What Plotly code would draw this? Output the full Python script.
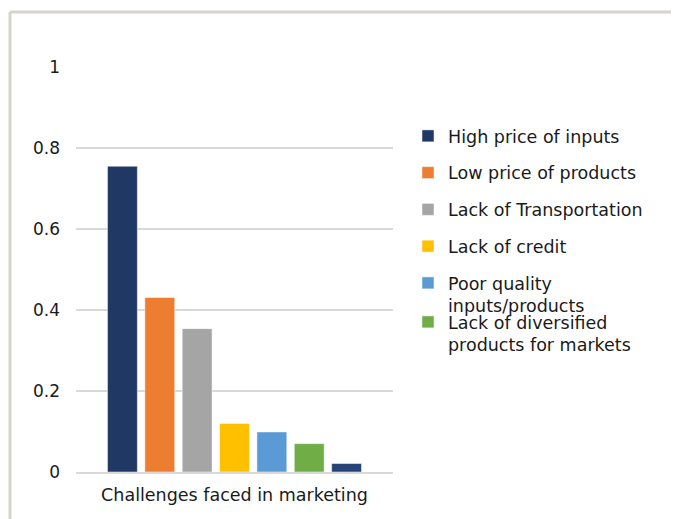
import plotly.graph_objects as go

CATEGORY = "Challenges faced in marketing"
SERIES_NAMES = [
    "High price of inputs",
    "Low price of products",
    "Lack of Transportation",
    "Lack of credit",
    "Poor quality<br>inputs/products",
    "Lack of diversified<br>products for markets",
    "Other",
]
SERIES_VALUES = [0.755, 0.431, 0.354, 0.12, 0.099, 0.07, 0.021]
SERIES_COLORS = ["#203864", "#ED7D31", "#A5A5A5", "#FFC000", "#5B9BD5", "#70AD47", "#264478"]
Y_TICKS = [0, 0.2, 0.4, 0.6, 0.8, 1]

# the page body adds an 8px margin, so the figure is a bit smaller than the window
WIDTH, HEIGHT = 671, 511
PLOT_LEFT, PLOT_RIGHT = 68, 385
PLOT_TOP, PLOT_BOTTOM = 59, 464
FONT = "DejaVu Sans"
TEXT_COLOR = "#1a1a1a"
GRID_COLOR = "#d9d9d9"
FRAME_COLOR = "#d6d3cb"

plot_w = PLOT_RIGHT - PLOT_LEFT
plot_h = PLOT_BOTTOM - PLOT_TOP


def px_to_paper_x(px):
    return (px - PLOT_LEFT) / plot_w


def px_to_paper_y(py):
    return (PLOT_BOTTOM - py) / plot_h


fig = go.Figure()
for i, (name, value, color) in enumerate(zip(SERIES_NAMES, SERIES_VALUES, SERIES_COLORS)):
    fig.add_trace(
        go.Bar(
            x=[CATEGORY],
            y=[value],
            name=name,
            marker={"color": color, "line": {"color": "white", "width": 0.5}},
            showlegend=i < 6,
            legend="legend2" if i == 5 else "legend",
            legendgroup=f"g{i}",
        )
    )

fig.update_layout(
    width=WIDTH,
    height=HEIGHT,
    margin={"l": PLOT_LEFT, "r": WIDTH - PLOT_RIGHT, "t": PLOT_TOP, "b": HEIGHT - PLOT_BOTTOM},
    paper_bgcolor="white",
    plot_bgcolor="white",
    font={"family": FONT, "size": 17.5, "color": TEXT_COLOR},
    barmode="group",
    bargap=0.175,
    bargroupgap=0.2,
    xaxis={
        "showgrid": False,
        "showline": True,
        "linecolor": GRID_COLOR,
        "linewidth": 1.5,
        "ticks": "",
        "tickfont": {"size": 17.5},
        "ticklabelstandoff": 6,
    },
    yaxis={
        "range": [0, 1],
        "tickvals": Y_TICKS,
        "ticktext": [f"{v:g}" for v in Y_TICKS],
        "showgrid": True,
        "gridcolor": GRID_COLOR,
        "gridwidth": 1.5,
        "zeroline": False,
        "ticks": "",
        "tickfont": {"size": 17},
        "ticklabelstandoff": 15,
    },
    legend={
        "x": px_to_paper_x(400),
        "xanchor": "left",
        "y": px_to_paper_y(110),
        "yanchor": "top",
        "bgcolor": "rgba(0,0,0,0)",
        "font": {"size": 17.5},
        "tracegroupgap": 11,
        "valign": "top",
    },
    legend2={
        "x": px_to_paper_x(400),
        "xanchor": "left",
        "y": px_to_paper_y(296),
        "yanchor": "top",
        "bgcolor": "rgba(0,0,0,0)",
        "font": {"size": 17.5},
        "valign": "top",
    },
    shapes=[
        {
            "type": "line",
            "xref": "paper",
            "yref": "paper",
            "x0": px_to_paper_x(2),
            "x1": px_to_paper_x(WIDTH + 10),
            "y0": px_to_paper_y(4),
            "y1": px_to_paper_y(4),
            "line": {"color": FRAME_COLOR, "width": 3},
        },
        {
            "type": "line",
            "xref": "paper",
            "yref": "paper",
            "x0": px_to_paper_x(2),
            "x1": px_to_paper_x(2),
            "y0": px_to_paper_y(4),
            "y1": px_to_paper_y(HEIGHT + 10),
            "line": {"color": FRAME_COLOR, "width": 3},
        },
    ],
)

fig.write_html("out.html")
